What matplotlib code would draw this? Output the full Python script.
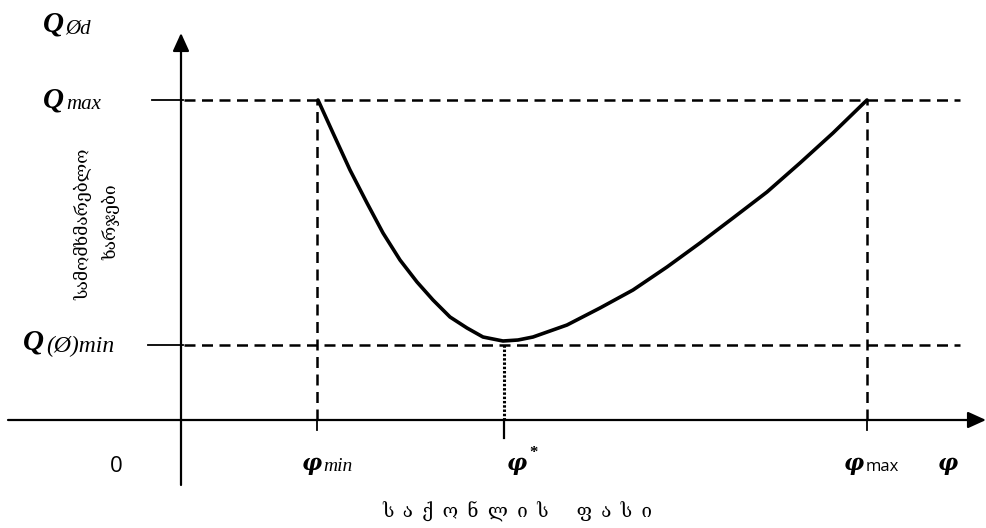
import matplotlib
matplotlib.use('Agg')
from matplotlib import pyplot as plt

# key points of the diagram (axis units, origin where the axes cross)
phi_min, phi_star, phi_max = 1.36, 3.23, 6.86
q_max, q_min = 3.20, 0.75

# the cost curve
curve_x = [1.37, 1.52, 1.69, 1.86, 2.02, 2.19, 2.36, 2.52, 2.69, 2.86, 3.02,
           3.12, 3.22, 3.37, 3.52, 3.69, 3.86, 4.19, 4.52, 4.86, 5.19, 5.52,
           5.86, 6.19, 6.52, 6.86]
curve_y = [3.20, 2.87, 2.50, 2.17, 1.87, 1.60, 1.38, 1.20, 1.03, 0.92, 0.83,
           0.81, 0.79, 0.80, 0.83, 0.89, 0.95, 1.12, 1.30, 1.53, 1.77, 2.02,
           2.28, 2.57, 2.87, 3.20]

y_label = ['სამომხმარებლო', 'ხარჯები']
x_label = '\u2002'.join('საქონლის') + '\u2002' * 3 + '\u2002'.join('ფასი')
geo_font = ['DejaVu Serif', 'DejaVu Sans']
serif = 'Liberation Serif'

fig = plt.figure(figsize=(9.86, 5.28), dpi=100)
ax = fig.add_axes([0, 0, 1, 1])
ax.set_xlim(-1.81, 8.05)
ax.set_ylim(-1.08, 4.20)
ax.axis('off')

arrow = dict(arrowstyle='-|>,head_length=0.55,head_width=0.25', lw=1.6,
             color='black', mutation_scale=20, shrinkA=0, shrinkB=0)
# axes with arrows
ax.annotate('', xy=(8.05, 0), xytext=(-1.73, 0), arrowprops=arrow)
ax.annotate('', xy=(0, 3.87), xytext=(0, -0.65), arrowprops=arrow)

dash = (0, (4.4, 2.6))
# horizontal guides
ax.plot([-0.29, 0.02], [q_max, q_max], color='black', lw=1.3)
ax.plot([0.03, 7.79], [q_max, q_max], color='black', lw=1.8, linestyle=dash)
ax.plot([-0.33, 0.02], [q_min, q_min], color='black', lw=1.3)
ax.plot([0.03, 7.79], [q_min, q_min], color='black', lw=1.8, linestyle=dash)

# vertical guides
for xv in (phi_min, phi_max):
    ax.plot([xv, xv], [0, q_max], color='black', lw=1.8, linestyle=dash)
    ax.plot([xv, xv], [-0.1, 0], color='black', lw=1.3)
ax.plot([phi_star, phi_star], [0, q_min], color='black', lw=2.2,
        linestyle=(0, (0.8, 0.6)))
ax.plot([phi_star, phi_star], [-0.18, 0], color='black', lw=1.6)

# curve
ax.plot(curve_x, curve_y, color='black', lw=2.6, solid_capstyle='round',
        solid_joinstyle='round')


def big(x, y, s, size=21, family=serif):
    ax.text(x, y, s, fontsize=size, family=family, style='italic',
            weight='bold', ha='left', va='baseline')


def small(x, y, s, size=15):
    ax.text(x, y, s, fontsize=size, family=serif, style='italic',
            ha='left', va='baseline')


# Q labels on the left
big(-1.38, 3.88, 'Q')
small(-1.16, 3.86, 'Ød')
big(-1.38, 3.13, 'Q')
small(-1.15, 3.11, 'max')
big(-1.58, 0.70, 'Q')
small(-1.35, 0.68, '(Ø)min', 17)

# labels under the x axis
phi_font = 'DejaVu Serif'
ax.text(-0.65, -0.47, '0', fontsize=16, family='Open Sans', ha='center',
        va='center')
big(1.21, -0.50, 'φ', 16, phi_font)
small(1.42, -0.51, 'min', 14)
big(3.26, -0.50, 'φ', 16, phi_font)
ax.text(3.48, -0.37, '*', fontsize=12, family=serif, weight='bold',
        ha='left', va='baseline')
big(6.63, -0.50, 'φ', 16, phi_font)
ax.text(6.85, -0.51, 'max', fontsize=12, family='Open Sans',
        ha='left', va='baseline')
big(7.57, -0.50, 'φ', 16, phi_font)

ax.text(-0.98, 1.96, y_label[0], fontsize=12.5, family=geo_font, rotation=90,
        ha='center', va='center')
ax.text(-0.70, 1.98, y_label[1], fontsize=12.5, family=geo_font, rotation=90,
        ha='center', va='center')
ax.text(3.36, -0.92, x_label, fontsize=13.5, family=geo_font, ha='center',
        va='center')

fig.savefig('out.png', dpi=100)
